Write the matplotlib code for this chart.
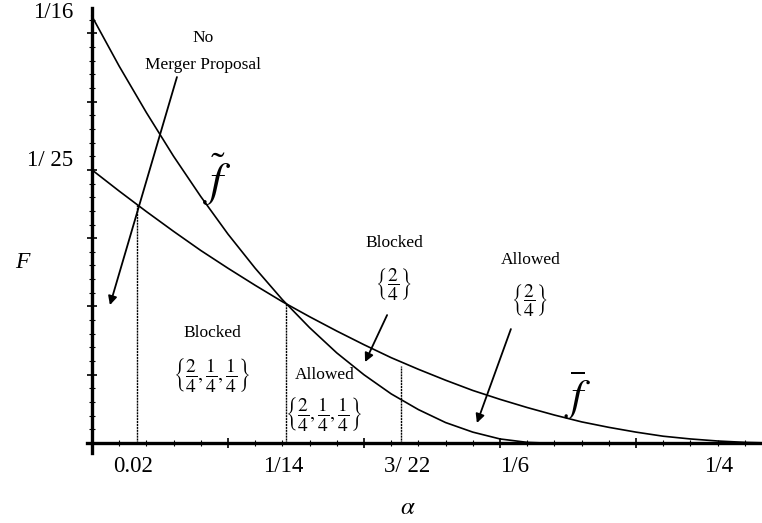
import matplotlib
matplotlib.use("Agg")
import matplotlib.pyplot as plt

plt.rcParams['font.family'] = ['Liberation Serif', 'DejaVu Serif']
plt.rcParams['mathtext.fontset'] = 'stix'

# curve samples
alpha = [0.0, 0.01, 0.02, 0.03, 0.04, 0.05, 0.06, 0.07, 0.08, 0.09, 0.10, 0.11, 0.12,
         0.13, 0.14, 0.15, 0.16, 0.17, 0.18, 0.19, 0.20, 0.21, 0.22, 0.23, 0.24, 0.25]
f_tilde = [0.0625, 0.0552, 0.0484, 0.0420, 0.0361, 0.0306, 0.0256, 0.0210, 0.0169, 0.0132,
           0.0100, 0.0072, 0.0049, 0.0030, 0.0016, 0.0006, 0.0001]
f_tilde_end = 1 / 6
f_bar = [0.0400, 0.0369, 0.0339, 0.0310, 0.0282, 0.0256, 0.0231, 0.0207, 0.0185, 0.0164,
         0.0144, 0.0125, 0.0108, 0.0092, 0.0077, 0.0064, 0.0052, 0.0041, 0.0031, 0.0023,
         0.0016, 0.0010, 0.0006, 0.0003, 0.0001, 0.0]

# dotted separators: position and height
vline_x = [0.0165, 1 / 14, 0.1136]
vline_top = [0.0349, 0.0204, 0.0113]

# tick labels (drawn by hand, like the original)
xlab_pos = [0.0151, 0.0702, 0.1160, 0.1555, 0.2302]
xlab_txt = ['0.02', '1/14', '3/ 22', '1/6', '1/4']
ylab_pos = [0.0630, 0.0414]
ylab_txt = ['1/16', '1/ 25']

three = r'$\left\{\dfrac{2}{4},\dfrac{1}{4},\dfrac{1}{4}\right\}$'
one = r'$\left\{\dfrac{2}{4}\right\}$'

fig = plt.figure(figsize=(7.62, 5.23), dpi=100)
ax = fig.add_axes([0.1142, 0.1338, 0.8858, 0.8509])
ax.set_xlim(-0.0018, 0.2463)
ax.set_ylim(-0.00146, 0.0637)

for s in ['top', 'right']:
    ax.spines[s].set_visible(False)
for s in ['left', 'bottom']:
    ax.spines[s].set_position(('data', 0))
    ax.spines[s].set_linewidth(2.4)

ax.set_xticks([0.05, 0.10, 0.15, 0.20])
ax.set_xticks([i * 0.01 for i in range(1, 25)], minor=True)
ax.set_yticks([0.01, 0.02, 0.03, 0.04, 0.05, 0.06])
ax.set_yticks([i * 0.002 for i in range(1, 32)], minor=True)
ax.set_xticklabels([])
ax.set_yticklabels([])
ax.tick_params(which='major', direction='inout', length=7, width=1.2)
ax.tick_params(which='minor', direction='inout', length=4, width=0.8)

ax.plot(alpha[:len(f_tilde)] + [f_tilde_end], f_tilde + [0.0], color='black', lw=1.2)
ax.plot(alpha, f_bar, color='black', lw=1.2)

for x, top in zip(vline_x, vline_top):
    ax.plot([x, x], [0, top], color='black', lw=1.0, linestyle=(0, (1.5, 0.6)))

for x, t in zip(xlab_pos, xlab_txt):
    ax.text(x, -0.0034, t, ha='center', va='center', fontsize=16.5, clip_on=False)
for y, t in zip(ylab_pos, ylab_txt):
    ax.text(-0.007, y, t, ha='right', va='center', fontsize=16.5, clip_on=False)

ax.text(-0.0257, 0.0265, 'F', ha='center', va='center', fontsize=17, style='italic', clip_on=False)
ax.text(0.1162, -0.0095, r'$\alpha$', ha='center', va='center', fontsize=18, clip_on=False)

ax.text(0.0463, 0.0385, r'$\widetilde{f}$', ha='center', va='center', fontsize=34)
ax.text(0.1787, 0.0070, r'$\overline{f}$', ha='center', va='center', fontsize=32)

ax.text(0.0408, 0.0593, 'No', ha='center', va='center', fontsize=12.5)
ax.text(0.0408, 0.0553, 'Merger Proposal', ha='center', va='center', fontsize=12.5)
ax.text(0.0441, 0.0161, 'Blocked', ha='center', va='center', fontsize=12.5)
ax.text(0.0441, 0.0100, three, ha='center', va='center', fontsize=14)
ax.text(0.0857, 0.0100, 'Allowed', ha='center', va='center', fontsize=12.5)
ax.text(0.0853, 0.0043, three, ha='center', va='center', fontsize=14)
ax.text(0.1110, 0.0293, 'Blocked', ha='center', va='center', fontsize=12.5)
ax.text(0.1110, 0.0231, one, ha='center', va='center', fontsize=14)
ax.text(0.1614, 0.0268, 'Allowed', ha='center', va='center', fontsize=12.5)
ax.text(0.1610, 0.0208, one, ha='center', va='center', fontsize=14)

arrows = [((0.03125, 0.05359), (0.00662, 0.0202)),
          ((0.1085, 0.01874), (0.1004, 0.01186)),
          ((0.1540, 0.01669), (0.1415, 0.00293))]
for start, end in arrows:
    ax.annotate('', xy=end, xytext=start,
                arrowprops=dict(arrowstyle='-|>', color='black', lw=1.3,
                                mutation_scale=13, shrinkA=0, shrinkB=0))

fig.savefig('out.png', dpi=100)
